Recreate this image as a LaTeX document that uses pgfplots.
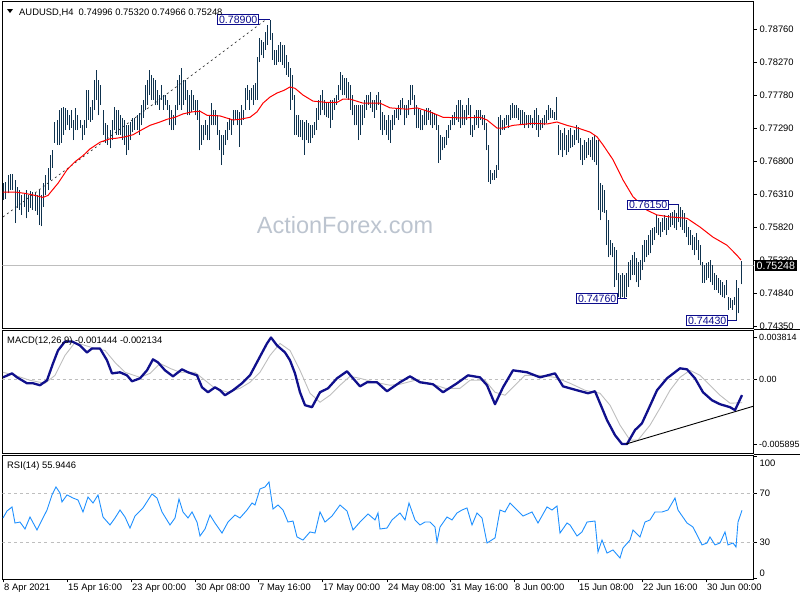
\documentclass[border=0pt]{standalone}
\usepackage{fontspec}
\setmainfont{Liberation Sans}
\usepackage{pgfplots}
\usepackage{pgfplotstable}
\pgfplotsset{compat=1.18}
\definecolor{barcol}{RGB}{14,50,78}
\definecolor{boxnavy}{RGB}{12,12,140}
\definecolor{macdcol}{RGB}{16,16,140}
\definecolor{sigcol}{RGB}{190,190,190}
\definecolor{rsicol}{RGB}{30,144,255}
\definecolor{lvl}{RGB}{190,190,190}
\definecolor{wm}{RGB}{188,196,207}
\newcommand\sfont{\fontsize{9.4}{11}\selectfont}
\newcommand\bfont{\fontsize{10.6}{12}\selectfont}

\pgfplotstableread{
x h l
3 0.7647 0.7622
5 0.7649 0.7624
8 0.7659 0.7632
10 0.7661 0.7637
12 0.7661 0.7637
15 0.7652 0.7588
17 0.7641 0.7610
19 0.7637 0.7607
21 0.7629 0.7600
24 0.7631 0.7612
26 0.7637 0.7595
28 0.7629 0.7604
30 0.7635 0.7610
32 0.7634 0.7607
35 0.7632 0.7606
37 0.7629 0.7600
39 0.7637 0.7585
41 0.7629 0.7583
43 0.7647 0.7612
45 0.7659 0.7629
48 0.7670 0.7637
50 0.7689 0.7652
52 0.7696 0.7670
54 0.7738 0.7707
57 0.7741 0.7704
59 0.7756 0.7704
61 0.7759 0.7707
63 0.7760 0.7719
65 0.7759 0.7726
67 0.7756 0.7733
69 0.7748 0.7726
71 0.7756 0.7729
73 0.7741 0.7711
75 0.7759 0.7726
77 0.7748 0.7726
80 0.7741 0.7729
82 0.7733 0.7711
84 0.7741 0.7719
86 0.7785 0.7729
88 0.7785 0.7741
90 0.7760 0.7738
92 0.7771 0.7741
94 0.7800 0.7756
96 0.7815 0.7771
98 0.7800 0.7748
100 0.7793 0.7763
103 0.7756 0.7719
105 0.7736 0.7707
107 0.7733 0.7704
110 0.7726 0.7699
112 0.7741 0.7711
114 0.7760 0.7726
116 0.7756 0.7719
118 0.7756 0.7719
120 0.7748 0.7719
122 0.7744 0.7711
124 0.7741 0.7704
126 0.7733 0.7689
128 0.7733 0.7696
130 0.7738 0.7711
132 0.7744 0.7723
134 0.7744 0.7726
137 0.7748 0.7726
139 0.7751 0.7719
141 0.7763 0.7733
143 0.7771 0.7744
145 0.7793 0.7756
147 0.7800 0.7763
149 0.7815 0.7778
151 0.7808 0.7771
153 0.7803 0.7771
155 0.7800 0.7763
157 0.7785 0.7763
159 0.7778 0.7756
161 0.7793 0.7771
163 0.7778 0.7756
165 0.7778 0.7763
167 0.7771 0.7756
169 0.7763 0.7733
171 0.7756 0.7726
173 0.7748 0.7726
175 0.7763 0.7733
177 0.7800 0.7756
179 0.7808 0.7763
181 0.7818 0.7756
183 0.7800 0.7763
185 0.7800 0.7771
187 0.7785 0.7748
189 0.7778 0.7748
191 0.7785 0.7753
193 0.7778 0.7756
195 0.7771 0.7748
197 0.7771 0.7741
199 0.7756 0.7696
201 0.7733 0.7704
203 0.7733 0.7711
205 0.7741 0.7719
207 0.7733 0.7711
209 0.7748 0.7711
211 0.7766 0.7733
213 0.7756 0.7733
215 0.7756 0.7733
217 0.7748 0.7719
219 0.7726 0.7696
221 0.7719 0.7674
223 0.7719 0.7689
225 0.7726 0.7704
227 0.7738 0.7711
229 0.7744 0.7726
231 0.7741 0.7719
233 0.7756 0.7733
235 0.7756 0.7741
237 0.7756 0.7733
239 0.7753 0.7701
241 0.7763 0.7733
243 0.7756 0.7741
245 0.7788 0.7756
247 0.7793 0.7771
249 0.7785 0.7756
251 0.7788 0.7771
253 0.7793 0.7763
255 0.7796 0.7771
257 0.7834 0.7771
259 0.7863 0.7827
261 0.7860 0.7837
263 0.7857 0.7833
265 0.7872 0.7845
267 0.7882 0.7852
270 0.7890 0.7860
272 0.7870 0.7830
274 0.7845 0.7823
276 0.7845 0.7823
278 0.7852 0.7827
280 0.7857 0.7827
282 0.7852 0.7823
284 0.7852 0.7818
286 0.7837 0.7808
288 0.7827 0.7805
290 0.7818 0.7756
292 0.7808 0.7771
294 0.7778 0.7719
296 0.7748 0.7719
298 0.7748 0.7716
300 0.7741 0.7716
302 0.7741 0.7711
304 0.7738 0.7689
306 0.7741 0.7711
308 0.7736 0.7707
310 0.7733 0.7707
312 0.7733 0.7714
314 0.7738 0.7719
316 0.7759 0.7726
318 0.7771 0.7741
320 0.7778 0.7748
322 0.7785 0.7756
324 0.7771 0.7748
326 0.7767 0.7745
328 0.7766 0.7744
330 0.7771 0.7729
332 0.7771 0.7741
334 0.7774 0.7756
336 0.7778 0.7763
338 0.7793 0.7771
340 0.7812 0.7785
342 0.7808 0.7778
344 0.7803 0.7778
346 0.7803 0.7774
348 0.7797 0.7771
350 0.7793 0.7756
352 0.7778 0.7748
354 0.7763 0.7733
356 0.7763 0.7733
358 0.7763 0.7711
360 0.7763 0.7719
362 0.7763 0.7733
364 0.7771 0.7744
366 0.7778 0.7756
368 0.7778 0.7763
370 0.7782 0.7759
372 0.7771 0.7753
374 0.7771 0.7744
376 0.7778 0.7756
378 0.7782 0.7763
380 0.7771 0.7726
382 0.7753 0.7719
384 0.7748 0.7726
386 0.7741 0.7719
388 0.7748 0.7711
390 0.7741 0.7707
392 0.7748 0.7726
394 0.7756 0.7733
396 0.7759 0.7744
398 0.7763 0.7741
400 0.7771 0.7748
402 0.7774 0.7759
404 0.7763 0.7733
406 0.7763 0.7744
408 0.7771 0.7748
410 0.7793 0.7763
412 0.7793 0.7771
414 0.7778 0.7748
416 0.7763 0.7729
418 0.7759 0.7729
420 0.7756 0.7726
422 0.7748 0.7726
424 0.7756 0.7733
426 0.7759 0.7733
428 0.7759 0.7741
430 0.7756 0.7733
432 0.7753 0.7729
434 0.7751 0.7733
436 0.7748 0.7726
438 0.7733 0.7677
440 0.7719 0.7682
442 0.7716 0.7696
444 0.7716 0.7699
446 0.7726 0.7704
448 0.7733 0.7714
450 0.7741 0.7726
452 0.7748 0.7733
454 0.7753 0.7733
456 0.7763 0.7741
458 0.7771 0.7738
460 0.7771 0.7729
462 0.7763 0.7733
464 0.7756 0.7733
466 0.7763 0.7741
468 0.7774 0.7748
470 0.7763 0.7719
472 0.7733 0.7716
474 0.7748 0.7726
476 0.7756 0.7733
478 0.7756 0.7729
480 0.7756 0.7741
482 0.7748 0.7733
484 0.7748 0.7726
486 0.7736 0.7696
488 0.7704 0.7649
490 0.7667 0.7646
492 0.7662 0.7652
494 0.7667 0.7652
496 0.7674 0.7655
498 0.7745 0.7667
500 0.7748 0.7719
502 0.7741 0.7726
504 0.7744 0.7726
506 0.7748 0.7733
508 0.7748 0.7729
510 0.7763 0.7741
512 0.7766 0.7744
514 0.7763 0.7744
516 0.7763 0.7744
518 0.7759 0.7741
520 0.7756 0.7733
522 0.7756 0.7733
524 0.7753 0.7729
526 0.7748 0.7733
528 0.7748 0.7729
530 0.7748 0.7733
532 0.7744 0.7729
534 0.7756 0.7733
536 0.7759 0.7726
538 0.7748 0.7716
540 0.7741 0.7726
542 0.7744 0.7729
544 0.7748 0.7733
546 0.7756 0.7736
548 0.7763 0.7741
550 0.7759 0.7744
552 0.7756 0.7744
554 0.7753 0.7741
556 0.7775 0.7741
558 0.7733 0.7689
560 0.7726 0.7696
562 0.7722 0.7686
564 0.7729 0.7696
566 0.7719 0.7689
568 0.7726 0.7693
570 0.7729 0.7699
572 0.7719 0.7701
574 0.7726 0.7704
576 0.7733 0.7711
578 0.7730 0.7707
580 0.7714 0.7682
582 0.7704 0.7674
584 0.7711 0.7682
586 0.7708 0.7684
588 0.7714 0.7689
590 0.7711 0.7686
592 0.7716 0.7682
594 0.7719 0.7679
596 0.7711 0.7674
598 0.7711 0.7607
600 0.7647 0.7592
602 0.7644 0.7604
604 0.7637 0.7603
606 0.7607 0.7555
608 0.7592 0.7537
610 0.7563 0.7540
612 0.7558 0.7537
614 0.7552 0.7493
616 0.7548 0.7503
618 0.7514 0.7478
620 0.7511 0.7476
622 0.7514 0.7478
624 0.7511 0.7476
626 0.7514 0.7478
628 0.7530 0.7493
630 0.7533 0.7503
632 0.7540 0.7511
634 0.7545 0.7511
636 0.7536 0.7500
638 0.7530 0.7493
640 0.7533 0.7503
642 0.7555 0.7518
644 0.7563 0.7530
646 0.7563 0.7537
648 0.7570 0.7540
650 0.7578 0.7543
652 0.7581 0.7555
654 0.7582 0.7563
656 0.7600 0.7573
658 0.7595 0.7570
660 0.7589 0.7567
662 0.7595 0.7575
664 0.7600 0.7578
666 0.7595 0.7570
668 0.7600 0.7578
670 0.7603 0.7582
672 0.7604 0.7585
674 0.7607 0.7580
676 0.7603 0.7578
678 0.7615 0.7589
680 0.7612 0.7582
682 0.7607 0.7578
684 0.7603 0.7573
686 0.7592 0.7567
688 0.7582 0.7555
690 0.7578 0.7555
692 0.7570 0.7548
694 0.7567 0.7540
696 0.7573 0.7548
698 0.7563 0.7533
700 0.7555 0.7526
702 0.7530 0.7499
704 0.7526 0.7499
706 0.7529 0.7503
708 0.7530 0.7506
710 0.7533 0.7500
712 0.7526 0.7496
714 0.7514 0.7489
716 0.7511 0.7489
718 0.7506 0.7484
720 0.7503 0.7481
722 0.7500 0.7478
724 0.7496 0.7476
726 0.7503 0.7481
728 0.7478 0.7459
730 0.7476 0.7462
732 0.7474 0.7459
734 0.7478 0.7466
736 0.7503 0.7443
738 0.7491 0.7454
741 0.7532 0.7497
}\barsT

\pgfplotstableread{
x y
3 0.7634
15 0.7634
25 0.7632
35 0.7629
43 0.7626
48 0.7629
58 0.7647
67 0.7667
75 0.7679
83 0.7688
90 0.7698
97 0.7705
100 0.7708
110 0.7713
117 0.7714
125 0.7716
133 0.7719
140 0.7725
150 0.7733
160 0.7738
167 0.7742
175 0.7745
183 0.7750
192 0.7753
200 0.7754
207 0.7748
220 0.7747
233 0.7741
240 0.7742
250 0.7745
257 0.7753
263 0.7766
270 0.7775
277 0.7781
284 0.7785
290 0.7790
295 0.7788
303 0.7778
313 0.7769
327 0.7767
337 0.7767
343 0.7772
350 0.7772
363 0.7766
380 0.7766
390 0.7759
407 0.7757
417 0.7759
430 0.7753
443 0.7745
463 0.7744
480 0.7745
487 0.7741
497 0.7729
503 0.7729
513 0.7733
533 0.7736
547 0.7735
557 0.7738
567 0.7733
580 0.7728
590 0.7723
597 0.7716
603 0.7704
613 0.7682
623 0.7652
633 0.7627
647 0.7607
657 0.7600
670 0.7597
687 0.7595
700 0.7582
713 0.7567
727 0.7555
737 0.7540
741 0.7533
}\maT

\pgfplotstableread{
x m
3 0.00018
12 0.00054
17 0.00018
27 -0.00036
33 -0.00036
40 -0.00054
47 -0.00009
53 0.00145
58 0.00263
65 0.00345
72 0.00345
80 0.00309
87 0.00245
92 0.00281
100 0.00281
107 0.00173
112 0.00054
120 0.00064
127 0.00036
132 -0.00018
140 0.00009
147 0.00082
153 0.00182
158 0.00154
165 0.00082
173 0.00027
182 0.00091
188 0.00064
197 0.00036
202 -0.00073
208 -0.00118
215 -0.00073
220 -0.00100
225 -0.00145
233 -0.00100
242 -0.00036
250 0.00036
258 0.00173
267 0.00327
271 0.00381
277 0.00309
285 0.00245
290 0.00173
295 0.00054
300 -0.00118
305 -0.00236
312 -0.00254
320 -0.00118
328 -0.00082
337 0.00009
347 0.00073
353 0.00009
360 -0.00064
367 -0.00027
377 -0.00027
387 -0.00109
400 -0.00027
410 0.00027
420 -0.00027
433 -0.00045
443 -0.00118
457 -0.00036
468 0.00036
480 0.00018
487 -0.00054
495 -0.00227
503 -0.00073
513 0.00082
527 0.00064
540 0.00018
555 0.00054
563 -0.00064
577 -0.00100
588 -0.00127
595 -0.00109
600 -0.00218
607 -0.00372
615 -0.00509
622 -0.00590
627 -0.00590
635 -0.00463
642 -0.00400
648 -0.00281
657 -0.00100
667 0.00009
680 0.00100
687 0.00091
695 0.00009
703 -0.00118
712 -0.00191
720 -0.00227
730 -0.00254
735 -0.00281
742 -0.00144
}\macdT

\pgfplotstableread{
x s
3 0.00064
15 0.00036
30 -0.00009
45 -0.00036
55 0.00036
65 0.00218
75 0.00336
85 0.00309
95 0.00281
105 0.00263
115 0.00154
125 0.00064
140 0.00018
150 0.00054
160 0.00145
170 0.00100
180 0.00064
195 0.00064
205 -0.00009
215 -0.00082
228 -0.00118
240 -0.00082
250 -0.00027
260 0.00064
270 0.00218
280 0.00327
290 0.00263
300 0.00082
310 -0.00127
320 -0.00209
330 -0.00145
340 -0.00054
350 0.00027
360 0.00009
375 -0.00027
390 -0.00054
400 -0.00045
415 -0.00009
430 -0.00036
445 -0.00082
460 -0.00082
470 -0.00009
485 -0.00009
495 -0.00118
505 -0.00145
515 -0.00054
525 0.00036
540 0.00036
555 0.00018
570 -0.00036
585 -0.00100
600 -0.00127
610 -0.00236
620 -0.00418
630 -0.00554
638 -0.00554
650 -0.00418
660 -0.00263
670 -0.00100
680 0.00018
690 0.00082
700 0.00036
710 -0.00054
720 -0.00145
730 -0.00218
742 -0.00213
}\sigT

\pgfplotstableread{
x r
3 49.6
7 55.3
12 58.6
15 45.5
20 46.3
25 40.6
30 50.4
37 39.8
42 48.0
47 56.1
52 68.4
56 74.9
60 70.0
62 62.7
67 68.4
73 65.9
78 64.3
83 54.5
88 66.7
93 61.8
98 68.4
103 50.4
110 43.9
115 49.6
120 56.1
125 50.4
130 41.4
135 51.2
143 57.8
152 69.2
157 65.9
162 54.5
170 43.9
175 49.6
179 65.1
183 54.5
188 49.6
192 54.5
197 46.3
200 34.9
205 40.6
210 52.0
215 45.5
222 37.3
228 46.3
235 52.0
240 49.6
247 56.1
252 61.8
255 60.2
260 73.3
265 74.9
269 79.0
273 56.9
278 60.2
283 56.1
288 46.3
293 47.1
297 34.1
303 31.6
310 38.2
315 37.3
320 54.5
325 46.3
332 51.2
340 60.2
347 55.3
353 39.8
360 46.3
368 52.9
375 48.0
378 53.7
380 40.6
387 41.4
392 48.0
400 53.7
405 48.0
409 61.8
415 48.0
420 43.9
425 46.3
430 46.3
435 42.2
437 30.0
440 42.2
447 50.4
452 48.0
457 53.7
462 56.1
467 57.8
472 43.9
477 53.7
482 49.6
487 29.2
495 33.3
500 56.1
505 54.5
510 61.8
515 57.8
523 51.2
532 54.5
538 45.5
547 58.6
552 56.1
557 59.4
560 37.3
567 45.5
570 43.9
577 34.9
582 38.2
587 46.3
595 47.1
598 21.8
602 31.6
607 21.0
613 23.5
620 16.9
623 25.1
630 31.6
633 39.8
640 34.1
645 46.3
650 48.0
655 54.5
662 54.5
668 56.1
675 65.9
678 56.1
687 45.5
693 42.2
698 34.1
702 27.6
707 29.2
710 34.1
715 27.6
720 29.2
725 38.2
728 27.6
733 29.2
736 25.9
738 46.3
742 55.9
}\rsiT

\begin{document}
\begin{tikzpicture}
\pgfplotsset{mt/.style={scale only axis, width=751pt, xmin=2.5, xmax=753.5,
  anchor=north west,
  axis line style={black,line width=0.9pt},
  scaled y ticks=false, scaled x ticks=false,
  xtick=\empty, ytick pos=right, yticklabel pos=right,
  tick align=outside, major tick length=3pt,
  tick style={black,line width=0.6pt},
  ticklabel style={font=\sfont},
  yticklabel style={anchor=west, inner sep=0pt, xshift=3pt}}}

% ---------------- main price panel ----------------
\begin{axis}[mt, at={(2.5pt,-1.5pt)}, height=326.5pt,
  ymin=0.74321, ymax=0.79169,
  ytick={0.7435,0.7484,0.7533,0.7582,0.7631,0.7680,0.7729,0.7778,0.7827,0.7876},
  yticklabels={0.74350,0.74840,0.75330,0.75820,0.76310,0.76800,0.77290,0.77780,0.78270,0.78760}]
\node[text=wm, font=\fontsize{23.5}{28}\selectfont] at (axis cs:345,0.7585) {ActionForex.com};
\addplot[lvl, line width=0.8pt] coordinates {(2.5,0.75248) (753.5,0.75248)};
\addplot[black!80, line width=0.7pt, dash pattern=on 2pt off 3pt] coordinates {(3,0.7597) (265,0.7889)};
\addplot[draw=none, mark=none,
  error bars/.cd, y dir=plus, y explicit, error mark=none,
  error bar style={draw=barcol, line width=0.95pt, solid, line cap=butt}]
  table[x=x, y=l, y error expr=\thisrow{h}-\thisrow{l}] {\barsT};
\addplot[red, line width=1pt] table[x=x, y=y] {\maT};
% price labels
\draw[boxnavy, line width=0.9pt] (axis cs:259,0.7890) -- (axis cs:270,0.7890);
\node[draw=boxnavy, fill=white, text=boxnavy, line width=0.9pt, font=\bfont, inner xsep=1.2pt, inner ysep=1pt, anchor=east] at (axis cs:259,0.7890) {0.78900};
\draw[boxnavy, line width=0.9pt] (axis cs:669,0.7615) -- (axis cs:679,0.7615);
\node[draw=boxnavy, fill=white, text=boxnavy, line width=0.9pt, font=\bfont, inner xsep=1.2pt, inner ysep=1pt, anchor=east] at (axis cs:669,0.7615) {0.76150};
\draw[boxnavy, line width=0.9pt] (axis cs:618,0.7476) -- (axis cs:627,0.7476);
\node[draw=boxnavy, fill=white, text=boxnavy, line width=0.9pt, font=\bfont, inner xsep=1.2pt, inner ysep=1pt, anchor=east] at (axis cs:618,0.7476) {0.74760};
\draw[boxnavy, line width=0.9pt] (axis cs:728,0.7443) -- (axis cs:737,0.7443);
\node[draw=boxnavy, fill=white, text=boxnavy, line width=0.9pt, font=\bfont, inner xsep=1.2pt, inner ysep=1pt, anchor=east] at (axis cs:728,0.7443) {0.74430};
\coordinate (cp) at (axis cs:753.5,0.75248);
\end{axis}
\node[fill=black, text=white, anchor=west, font=\bfont, inner xsep=2pt, inner ysep=0pt, minimum height=10.5pt] at ([xshift=1pt]cp) {0.75248};
\fill (7pt,-9pt) -- (13pt,-9pt) -- (10pt,-13pt) -- cycle;
\node[anchor=base west, inner sep=0pt, font=\sfont] at (19pt,-15pt) {AUDUSD,H4\ \ 0.74996 0.75320 0.74966 0.75248};

% ---------------- MACD panel ----------------
\begin{axis}[mt, at={(2.5pt,-330.5pt)}, height=122.5pt,
  ymin=-0.006719, ymax=0.004449,
  ytick={-0.005895,0,0.003814},
  yticklabels={-0.005895,0.00,0.003814},
  yticklabel style={xshift=-0.5pt, font=\fontsize{9}{11}\selectfont}]
\addplot[lvl, line width=0.8pt, dash pattern=on 3pt off 3pt] coordinates {(2.5,0) (753.5,0)};
\addplot[sigcol, line width=0.9pt] table[x=x, y=s] {\sigT};
\addplot[macdcol, line width=2.3pt, line join=round] table[x=x, y=m] {\macdT};
\addplot[black, line width=0.9pt] coordinates {(626,-0.0059) (753.5,-0.00245)};
\end{axis}
\node[anchor=base west, inner sep=0pt, font=\sfont] at (7pt,-343pt) {MACD(12,26,9) -0.001444 -0.002134};

% ---------------- RSI panel ----------------
\begin{axis}[mt, at={(2.5pt,-455pt)}, height=124.3pt,
  ymin=-0.45, ymax=101,
  ytick={0,30,70,100}, yticklabels={{},30,70,{}},
  xtick={3,67,131,195,258,322,387,450,514,578,642,706},
  xticklabels={8 Apr 2021,15 Apr 16:00,23 Apr 00:00,30 Apr 08:00,7 May 16:00,17 May 00:00,24 May 08:00,31 May 16:00,8 Jun 00:00,15 Jun 08:00,22 Jun 16:00,30 Jun 00:00},
  xtick pos=left, xticklabel style={anchor=north west, inner sep=0pt, xshift=1pt, yshift=-1.5pt}]
\addplot[lvl, line width=0.8pt, dash pattern=on 3pt off 3pt] coordinates {(2.5,70) (753.5,70)};
\addplot[lvl, line width=0.8pt, dash pattern=on 3pt off 3pt] coordinates {(2.5,30) (753.5,30)};
\addplot[rsicol, line width=0.9pt] table[x=x, y=r] {\rsiT};
\coordinate (r100) at (axis cs:753.5,94.5);
\coordinate (r0) at (axis cs:753.5,4.7);
\end{axis}
\node[anchor=west, inner sep=0pt, font=\sfont] at ([xshift=6pt]r100) {100};
\node[anchor=west, inner sep=0pt, font=\sfont] at ([xshift=6pt]r0) {0};
\node[anchor=base west, inner sep=0pt, font=\sfont] at (7pt,-468pt) {RSI(14) 55.9446};

% separators across the price scale
\draw[line width=0.9pt] (753.5pt,-329.5pt) -- (800pt,-329.5pt);
\draw[line width=0.9pt] (753.5pt,-454pt) -- (800pt,-454pt);

\pgfresetboundingbox
\path[use as bounding box] (0pt,0pt) rectangle (800pt,-600pt);
\end{tikzpicture}
\end{document}
